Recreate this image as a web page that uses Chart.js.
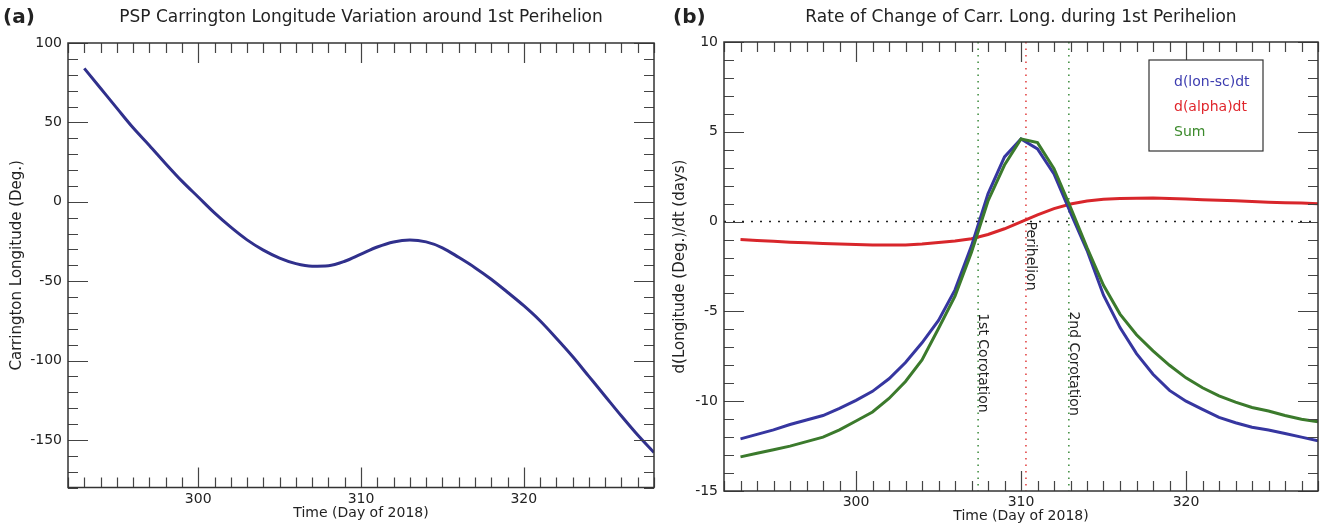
<!DOCTYPE html>
<html>
<head>
<meta charset="utf-8">
<script src="https://cdn.jsdelivr.net/npm/chart.js@4.4.1/dist/chart.umd.min.js"></script>
<style>
  html, body { margin: 0; padding: 0; background: #fff; }
  #wrap { position: relative; width: 1337px; height: 527px; }
  canvas { position: absolute; top: 0; }
  #panelA { left: 0; }
  #panelB { left: 670px; }
</style>
</head>
<body>
<div id="wrap">
  <canvas id="panelA" width="670" height="527"></canvas>
  <canvas id="panelB" width="667" height="527"></canvas>
</div>
<script>
// ===== data (day of 2018) =====
const days = [293, 294, 295, 296, 297, 298, 299, 300, 301, 302, 303, 304,
              305, 306, 307, 308, 309, 310, 311, 312, 313, 314, 315, 316,
              317, 318, 319, 320, 321, 322, 323, 324, 325, 326, 327, 328];

// panel (a): Carrington longitude (deg)
const carrLon = [84, 71.5, 59, 46.6, 35.5, 24, 13, 3, -7, -16, -24, -30.5,
                 -35.5, -39, -40.6, -40.3, -37.5, -33, -28.5, -25.3, -24.1, -25.3, -29, -35,
                 -41.5, -48.8, -57, -65.5, -75, -86, -97.5, -110, -122.5, -135, -147, -158];

// panel (b): rates of change
const dLonSc = [-12.1, -11.85, -11.6, -11.3, -11.05, -10.8, -10.4, -9.95, -9.45, -8.75, -7.85, -6.75,
                -5.5, -3.8, -1.35, 1.55, 3.6, 4.6, 4.05, 2.65, 0.5, -1.6, -4.1, -5.9,
                -7.35, -8.5, -9.4, -10.0, -10.45, -10.9, -11.2, -11.45, -11.6, -11.8, -12.0, -12.2];
const dAlpha = [-1.0, -1.05, -1.1, -1.15, -1.18, -1.22, -1.25, -1.28, -1.3, -1.3, -1.3, -1.25,
                -1.17, -1.08, -0.95, -0.72, -0.4, -0.02, 0.38, 0.72, 0.98, 1.15, 1.24, 1.28,
                1.3, 1.31, 1.29, 1.26, 1.22, 1.19, 1.16, 1.12, 1.08, 1.05, 1.03, 1.0];
const dSum = [-13.1, -12.9, -12.7, -12.5, -12.25, -12.0, -11.6, -11.1, -10.6, -9.85, -8.9, -7.7,
              -5.95, -4.15, -1.7, 1.15, 3.15, 4.6, 4.4, 2.95, 0.8, -1.45, -3.55, -5.15,
              -6.3, -7.2, -8.0, -8.7, -9.25, -9.7, -10.05, -10.35, -10.55, -10.8, -11.0, -11.15];
const seriesNames = ["d(lon-sc)dt", "d(alpha)dt", "Sum"];

// tick labels
const xTickLabels = [300, 310, 320];
const yTicksA = [-150, -100, -50, 0, 50, 100];
const yTicksB = [-15, -10, -5, 0, 5, 10];

// event markers in panel (b)
const markerDays = [307.4, 310.3, 312.9];
const markerNames = ["1st Corotation", "Perihelion", "2nd Corotation"];

// ===== styles =====
const FONT = "'DejaVu Sans', 'Liberation Sans', sans-serif";
const TXT = "#222";
const BLUE = "#3636a0";
const RED = "#d8262b";
const GREEN = "#3b7a2c";

const pts = ys => days.map((d, i) => ({ x: d, y: ys[i] }));

// frame with inward ticks on all four sides, titles, markers, legend
const framePlugin = {
  id: "frame",
  beforeDatasetsDraw(chart, args, o) {
    const { ctx, chartArea: a, scales: { x, y } } = chart;
    ctx.save();
    ctx.beginPath();
    ctx.rect(a.left, a.top, a.width, a.height);
    ctx.clip();
    ctx.lineWidth = 1.5;
    if (o.zeroLine) {
      ctx.strokeStyle = "#222";
      ctx.setLineDash([2, 7]);
      ctx.beginPath();
      ctx.moveTo(a.left, y.getPixelForValue(0));
      ctx.lineTo(a.right, y.getPixelForValue(0));
      ctx.stroke();
    }
    (o.markers || []).forEach(m => {
      const px = x.getPixelForValue(m.day);
      ctx.strokeStyle = m.color;
      ctx.setLineDash([1.5, 5]);
      ctx.beginPath();
      ctx.moveTo(px, a.top);
      ctx.lineTo(px, a.bottom);
      ctx.stroke();
    });
    ctx.restore();
  },
  afterDatasetsDraw(chart, args, o) {
    const { ctx, chartArea: a, scales: { x, y } } = chart;
    ctx.save();

    // marker labels, rotated
    ctx.fillStyle = TXT;
    ctx.font = "14px " + FONT;
    ctx.textAlign = "left";
    ctx.textBaseline = "alphabetic";
    (o.markers || []).forEach(m => {
      ctx.save();
      ctx.translate(x.getPixelForValue(m.day) + 1, y.getPixelForValue(m.labelAt));
      ctx.rotate(Math.PI / 2);
      ctx.fillText(m.text, 0, 0);
      ctx.restore();
    });

    // ticks
    ctx.strokeStyle = "#444";
    ctx.lineWidth = 1.2;
    ctx.beginPath();
    for (let v = x.min; v <= x.max + 1e-6; v += 1) {
      const px = Math.round(x.getPixelForValue(v)) + 0.5;
      const len = v % 10 === 0 ? 20 : 10;
      ctx.moveTo(px, a.top); ctx.lineTo(px, a.top + len);
      ctx.moveTo(px, a.bottom); ctx.lineTo(px, a.bottom - len);
    }
    for (let v = y.min; v <= y.max + 1e-6; v += o.yMinor) {
      const py = Math.round(y.getPixelForValue(v)) + 0.5;
      const len = Math.abs(v % o.yMajor) < 1e-6 ? 20 : 10;
      ctx.moveTo(a.left, py); ctx.lineTo(a.left + len, py);
      ctx.moveTo(a.right, py); ctx.lineTo(a.right - len, py);
    }
    ctx.stroke();
    ctx.strokeStyle = "#333";
    ctx.lineWidth = 1.5;
    ctx.strokeRect(a.left, a.top, a.width, a.height);

    // legend box
    if (o.legend) {
      const bx = a.right - 169, by = a.top + 18, bw = 114, bh = 91;
      ctx.fillStyle = "#fff";
      ctx.fillRect(bx, by, bw, bh);
      ctx.strokeStyle = "#333";
      ctx.lineWidth = 1.2;
      ctx.strokeRect(bx, by, bw, bh);
      ctx.font = "14px " + FONT;
      ctx.textBaseline = "middle";
      o.legend.forEach((it, i) => {
        ctx.fillStyle = it.color;
        ctx.fillText(it.text, bx + 25, by + 22 + i * 25);
      });
    }

    // title and panel tag
    ctx.fillStyle = TXT;
    ctx.textBaseline = "middle";
    ctx.textAlign = "center";
    ctx.font = "17px " + FONT;
    ctx.fillText(o.title, (a.left + a.right) / 2, 18);
    ctx.textAlign = "left";
    ctx.font = "bold 20px " + FONT;
    ctx.fillText(o.tag, o.tagX, 17.5);
    ctx.restore();
  }
};

function xAxis(height, tickPad, titlePad) {
  return {
    type: "linear", min: 292, max: 328,
    afterBuildTicks: s => { s.ticks = xTickLabels.map(v => ({ value: v })); },
    afterFit: s => { s.height = height; },
    grid: { display: false, drawTicks: false },
    border: { display: false },
    ticks: { font: { family: FONT, size: 14 }, color: TXT, padding: tickPad, maxRotation: 0 },
    title: { display: true, text: "Time (Day of 2018)", color: TXT,
             font: { family: FONT, size: 14 }, padding: { top: 0, bottom: titlePad } }
  };
}

function yAxis(min, max, tickVals, width, title, titlePad) {
  return {
    min: min, max: max,
    afterBuildTicks: s => { s.ticks = tickVals.map(v => ({ value: v })); },
    afterFit: s => { s.width = width; },
    grid: { display: false, drawTicks: false },
    border: { display: false },
    ticks: { font: { family: FONT, size: 14 }, color: TXT, padding: 6 },
    title: { display: true, text: title, color: TXT,
             font: { family: FONT, size: 15 }, padding: { top: titlePad, bottom: 0 } }
  };
}

const common = {
  responsive: false,
  animation: false,
  elements: { point: { radius: 0 }, line: { borderWidth: 3 } }
};

// ===== panel (a) =====
new Chart(document.getElementById("panelA"), {
  type: "line",
  data: {
    datasets: [{ data: pts(carrLon), borderColor: "#30308c", cubicInterpolationMode: "monotone" }]
  },
  options: {
    ...common,
    layout: { padding: { top: 43, left: 0, right: 16, bottom: 0 } },
    scales: {
      x: xAxis(39.5, 3, 5),
      y: yAxis(-180, 100, yTicksA, 68, "Carrington Longitude (Deg.)", 8)
    },
    plugins: {
      legend: { display: false },
      tooltip: { enabled: false },
      frame: { title: "PSP Carrington Longitude Variation around 1st Perihelion",
               tag: "(a)", tagX: 3, yMinor: 10, yMajor: 50 }
    }
  },
  plugins: [framePlugin]
});

// ===== panel (b) =====
new Chart(document.getElementById("panelB"), {
  type: "line",
  data: {
    datasets: [
      { label: seriesNames[2], data: pts(dSum), borderColor: GREEN, tension: 0 },
      { label: seriesNames[0], data: pts(dLonSc), borderColor: BLUE, tension: 0 },
      { label: seriesNames[1], data: pts(dAlpha), borderColor: RED, tension: 0 }
    ]
  },
  options: {
    ...common,
    layout: { padding: { top: 42, left: 0, right: 19, bottom: 0 } },
    scales: {
      x: xAxis(36, 3, 2),
      y: yAxis(-15, 10, yTicksB, 54, "d(Longitude (Deg.)/dt (days)", 1)
    },
    plugins: {
      legend: { display: false },
      tooltip: { enabled: false },
      frame: {
        title: "Rate of Change of Carr. Long. during 1st Perihelion",
        tag: "(b)", tagX: 3, yMinor: 1, yMajor: 5, zeroLine: true,
        markers: [
          { day: markerDays[0], color: "#3a8a3a", text: markerNames[0], labelAt: -5.1 },
          { day: markerDays[1], color: "#e03a3a", text: markerNames[1], labelAt: 0 },
          { day: markerDays[2], color: "#3a8a3a", text: markerNames[2], labelAt: -5.0 }
        ],
        legend: [
          { text: seriesNames[0], color: "#3d3db0" },
          { text: seriesNames[1], color: "#e0262c" },
          { text: seriesNames[2], color: "#3c8a2c" }
        ]
      }
    }
  },
  plugins: [framePlugin]
});
</script>
</body>
</html>
